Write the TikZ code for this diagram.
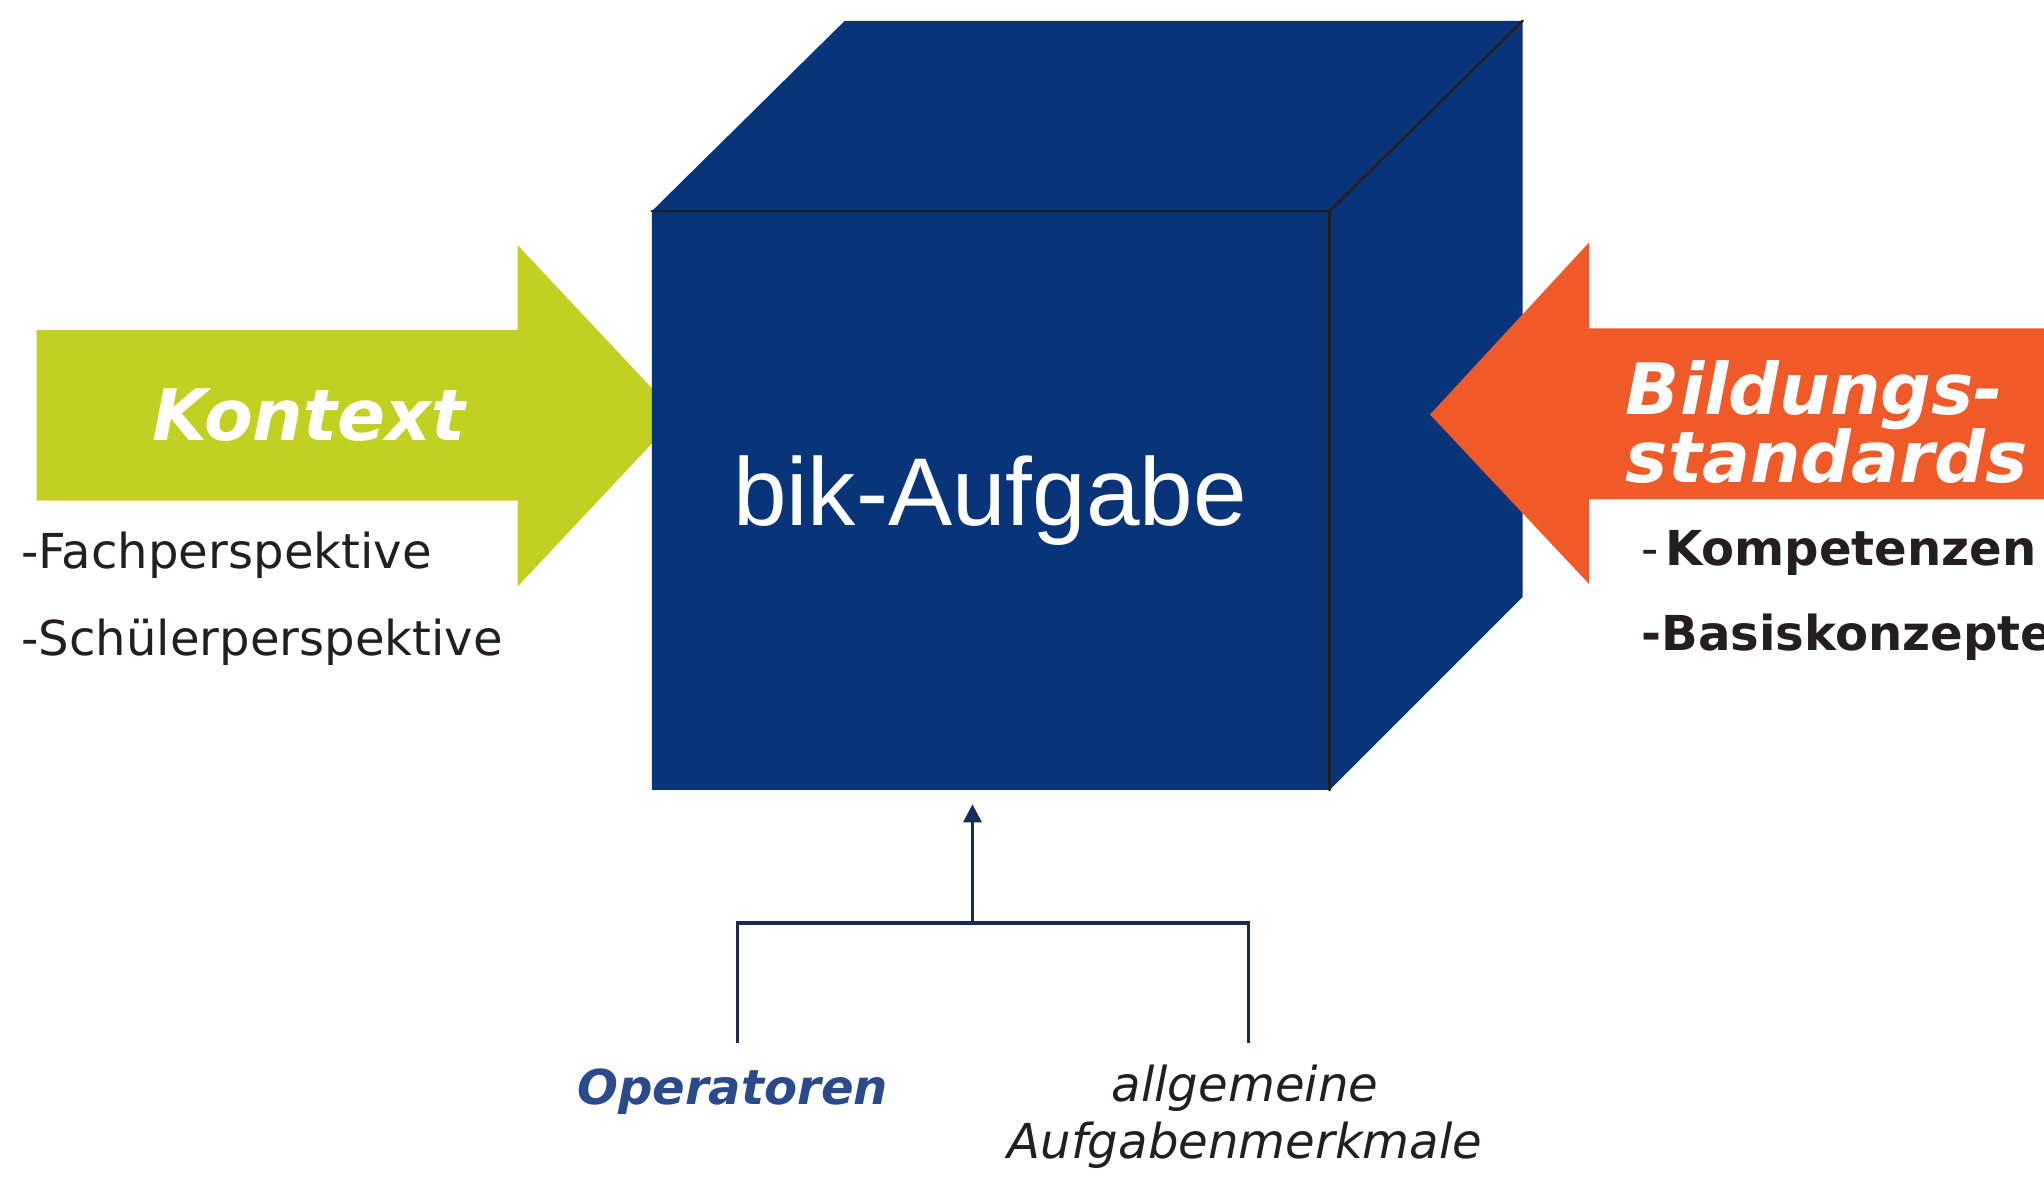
\documentclass[tikz,border=0pt]{standalone}
\usepackage{fontspec}
\setmainfont{DejaVu Sans}
\newfontfamily\arialfont{Liberation Sans}
\usetikzlibrary{arrows.meta}
\definecolor{cubeblue}{RGB}{10,52,122}
\definecolor{kgreen}{RGB}{194,208,34}
\definecolor{borange}{RGB}{240,90,40}
\definecolor{darktext}{RGB}{35,31,32}
\definecolor{opblue}{RGB}{43,74,140}
\definecolor{linenavy}{RGB}{27,42,78}
\tikzset{
  edge/.style={draw=darktext,line width=1.3pt,line cap=round},
  lbl/.style={inner sep=0pt,text=darktext,font=\fontsize{24}{28}\selectfont},
  biglbl/.style={inner sep=0pt,text=white,font=\fontsize{35.4}{34}\selectfont\bfseries\itshape},
  conn/.style={draw=linenavy,line width=1.6pt},
}
\begin{document}
\begin{tikzpicture}[x=0.65pt,y=-0.65pt]
\useasboundingbox (0,0) rectangle (1568,910);
% green arrow (behind cube)
\fill[kgreen] (28,253) -- (397,253) -- (397,188) -- (520,319) -- (397,450) -- (397,384) -- (28,384) -- cycle;
% cube
\fill[cubeblue] (500,162) -- (648,16) -- (1168,16) -- (1168,458) -- (1020,606) -- (500,606) -- cycle;
\draw[edge] (500,162) -- (1020,162) -- (1020,606);
\draw[edge] (1020,162) -- (1168,16);
% orange arrow
\fill[borange] (1568,252) -- (1219,252) -- (1219,186) -- (1097,318) -- (1219,448) -- (1219,383) -- (1568,383) -- cycle;
% texts
\node[biglbl,anchor=base] (kontext) at (237,338) {Kontext};
\node[biglbl,anchor=base west,align=left] (bild) at (1247,318) {Bildungs-};
\node[biglbl,anchor=base west] (stand) at (1247,370) {standards};
\node[inner sep=0pt,text=white,anchor=base west,font=\arialfont\fontsize{48}{56}\selectfont] (cube) at (562,403) {bik-Aufgabe};
\node[lbl,anchor=base west] (fach) at (16,436) {-Fachperspektive};
\node[lbl,anchor=base west] (schueler) at (16,503) {-Schülerperspektive};
\node[lbl,anchor=base west] (komp) at (1259,434) {-\hspace{3pt}\textbf{Kompetenzen}};
\node[lbl,anchor=base west] (basis) at (1259,499) {\textbf{-Basiskonzepte}};
\node[lbl,anchor=base,text=opblue,font=\fontsize{24}{28}\selectfont\bfseries\itshape] (oper) at (562,847) {Operatoren};
\node[lbl,anchor=base,font=\fontsize{24}{28}\selectfont\itshape] (allg) at (955,845) {allgemeine};
\node[lbl,anchor=base,font=\fontsize{24}{28}\selectfont\itshape] (aufg) at (955,889) {Aufgabenmerkmale};
% connector
\coordinate (opTop) at (566,800);
\coordinate (alTop) at (958,800);
\coordinate (lcorner) at (566,708);
\coordinate (rcorner) at (958,708);
\coordinate (junction) at (746,708);
\coordinate (tip) at (746,617);
\draw[conn] (opTop) -- (lcorner) -- (rcorner) -- (alTop);
\draw[conn,-{Triangle[width=9pt,length=9pt,fill=cubeblue]}] (junction) -- (tip);
\end{tikzpicture}
\end{document}
